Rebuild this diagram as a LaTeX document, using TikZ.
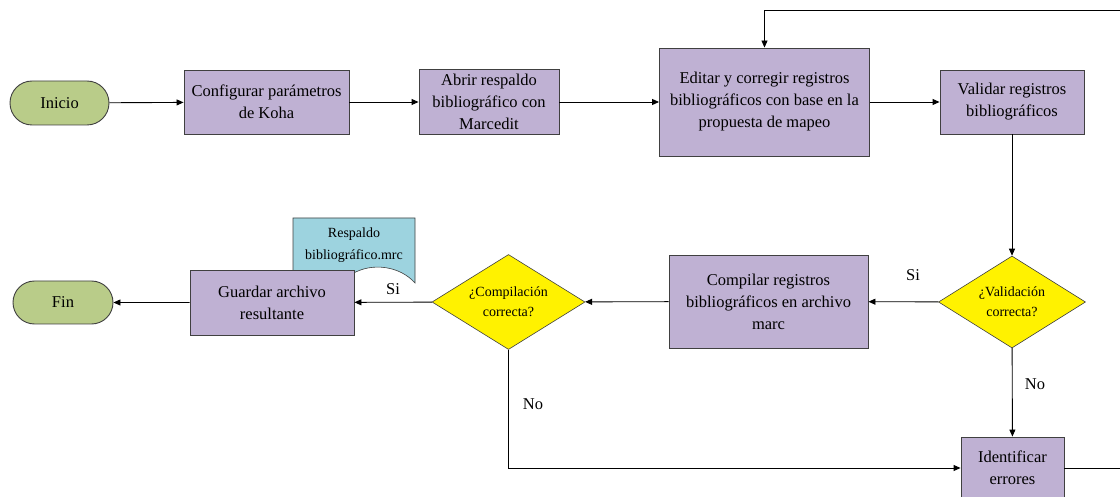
\documentclass[tikz,border=0pt]{standalone}
\usepackage{fontspec}
\setmainfont{Liberation Serif}
\usetikzlibrary{shapes.geometric,shapes.misc,arrows.meta}
\definecolor{procfill}{HTML}{BFB1D3}
\definecolor{termfill}{HTML}{B9CC89}
\definecolor{docfill}{HTML}{9DD3DF}
\definecolor{edgegray}{HTML}{404040}
\tikzset{
  boxtext/.style={font=\fontsize{16.5}{22}\selectfont, align=center},
  procbox/.style={draw=edgegray, fill=procfill, line width=0.9pt, inner sep=0pt, boxtext},
  termbox/.style={rounded rectangle, draw=edgegray, fill=termfill, line width=0.9pt, inner sep=0pt, boxtext},
  decbox/.style={diamond, draw=edgegray, fill=yellow, line width=0.6pt, inner sep=0pt, aspect=1.6,
                 font=\fontsize{14}{20}\selectfont, align=center},
  lbl/.style={font=\fontsize{16.5}{20}\selectfont, inner sep=0pt},
  arr/.style={line width=0.9pt, -{Triangle[length=7pt,width=6pt]}},
}
\begin{document}
\begin{tikzpicture}[x=1pt,y=-1pt]
\useasboundingbox (0,0) rectangle (1120,497);
\clip (0,0) rectangle (1120,497);

% top row
\node[termbox, minimum width=99, minimum height=44] (inicio) at (59.5,103) {Inicio};
\node[procbox, minimum width=165, minimum height=64] (config) at (266.5,102) {Configurar parámetros\\de Koha};
\node[procbox, minimum width=140, minimum height=65] (abrir) at (489,102) {Abrir respaldo\\bibliográfico con\\Marcedit};
\node[procbox, minimum width=210, minimum height=108] (editar) at (764.5,102) {Editar y corregir registros\\bibliográficos con base en la\\propuesta de mapeo};
\node[procbox, minimum width=144, minimum height=64] (validar) at (1012,102) {Validar registros\\bibliográficos};

% document behind the save step
\filldraw[fill=docfill, draw=edgegray, line width=0.6pt]
  (293,218) -- (415,218) -- (415,283)
  .. controls (400,266) and (372,262) .. (352,274)
  .. controls (335,284) and (312,290) .. (293,282) -- cycle;
\node[font=\fontsize{14}{22}\selectfont, align=center] (doc) at (354,245) {Respaldo\\bibliográfico.mrc};

% bottom row
\node[decbox, minimum width=147, minimum height=92] (vdiam) at (1012,302) {¿Validación\\correcta?};
\node[procbox, minimum width=199, minimum height=93] (compilar) at (768.5,301.5) {Compilar registros\\bibliográficos en archivo\\marc};
\node[decbox, minimum width=153, minimum height=95] (cdiam) at (508.5,302) {¿Compilación\\correcta?};
\node[procbox, minimum width=164, minimum height=65] (guardar) at (272,302.5) {Guardar archivo\\resultante};
\node[termbox, minimum width=100, minimum height=43] (fin) at (63,302.5) {Fin};
\node[procbox, minimum width=103, minimum height=62] (ident) at (1012.5,468) {Identificar\\errores};

% branch labels
\node[lbl] (si1) at (913,275) {Si};
\node[lbl] (no1) at (1035,384) {No};
\node[lbl] (si2) at (393,289) {Si};
\node[lbl] (no2) at (533,404) {No};

% connectors
\draw[arr] (inicio) -- (config);
\draw[arr] (config) -- (abrir);
\draw[arr] (abrir.east) -- (abrir.east -| editar.west);
\draw[arr] (editar.east |- validar.west) -- (validar.west);
\draw[arr] (validar) -- (vdiam);
\draw[arr] (vdiam) -- (compilar);
\draw[arr] (compilar) -- (cdiam);
\draw[arr] (cdiam) -- (guardar);
\draw[arr] (guardar) -- (fin);
\draw[arr] (vdiam) -- (ident);
\draw[arr] (cdiam.south) |- (ident.west);
\coordinate (loopr) at (1150,10);
\draw[arr] (ident.east) -- (ident.east -| loopr) -- (loopr) -| (editar.north);
\end{tikzpicture}
\end{document}
